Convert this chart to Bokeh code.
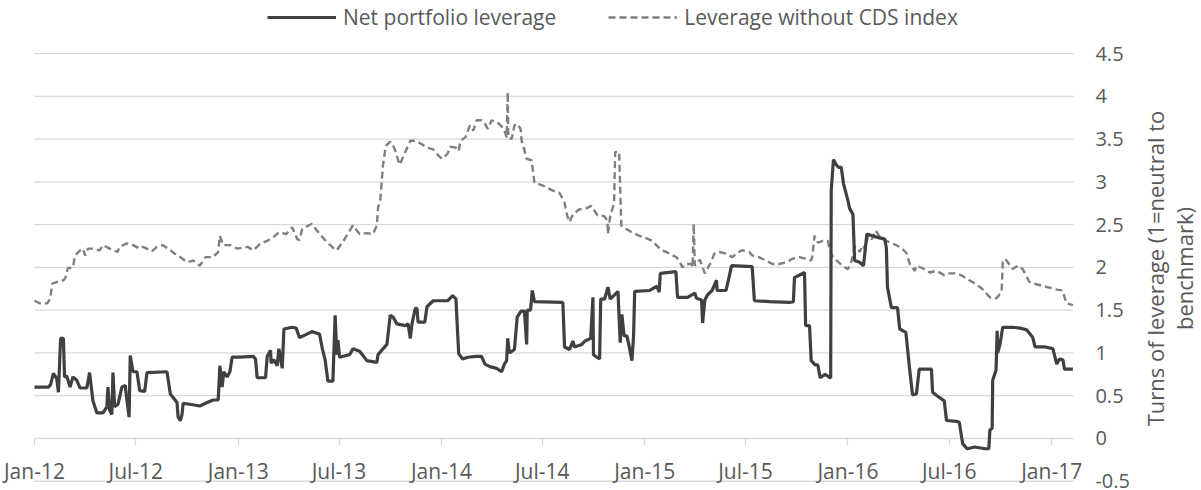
import pandas as pd
from bokeh.plotting import figure
from bokeh.models import (Range1d, FixedTicker, NumeralTickFormatter, DatetimeTickFormatter,
                          DatetimeAxis, LinearAxis, Legend, LegendItem, Label, ColumnDataSource)
from bokeh.embed import file_html
from bokeh.resources import INLINE

# ---------------- data ----------------
series_names = ["Net portfolio leverage", "Leverage without CDS index"]
axis_title_lines = ["Turns of leverage (1=neutral to", "benchmark)"]

net_dates = [
    "2012-01-01", "2012-01-26", "2012-01-30", "2012-02-04", "2012-02-10", "2012-02-13", "2012-02-17", "2012-02-22",
    "2012-02-24", "2012-02-28", "2012-03-05", "2012-03-10", "2012-03-17", "2012-03-23", "2012-04-04", "2012-04-09",
    "2012-04-15", "2012-04-22", "2012-05-03", "2012-05-10", "2012-05-12", "2012-05-15", "2012-05-19", "2012-05-21",
    "2012-05-24", "2012-05-30", "2012-06-06", "2012-06-12", "2012-06-15", "2012-06-19", "2012-06-21", "2012-06-26",
    "2012-07-03", "2012-07-08", "2012-07-17", "2012-07-21", "2012-08-26", "2012-09-01", "2012-09-06", "2012-09-13",
    "2012-09-15", "2012-09-19", "2012-09-22", "2012-09-24", "2012-10-06", "2012-10-24", "2012-11-06", "2012-11-17",
    "2012-11-26", "2012-11-29", "2012-12-03", "2012-12-06", "2012-12-12", "2012-12-17", "2012-12-21", "2013-01-04",
    "2013-01-28", "2013-02-01", "2013-02-04", "2013-02-19", "2013-02-22", "2013-02-28", "2013-03-01", "2013-03-06",
    "2013-03-12", "2013-03-15", "2013-03-21", "2013-03-24", "2013-04-08", "2013-04-15", "2013-04-21", "2013-04-28",
    "2013-05-13", "2013-05-27", "2013-06-01", "2013-06-06", "2013-06-11", "2013-06-20", "2013-06-24", "2013-06-27",
    "2013-06-29", "2013-07-02", "2013-07-20", "2013-07-26", "2013-08-07", "2013-08-20", "2013-09-07", "2013-09-09",
    "2013-09-25", "2013-10-01", "2013-10-06", "2013-10-13", "2013-10-28", "2013-11-02", "2013-11-06", "2013-11-09",
    "2013-11-15", "2013-11-18", "2013-11-20", "2013-12-02", "2013-12-06", "2013-12-17", "2014-01-12", "2014-01-21",
    "2014-01-27", "2014-01-30", "2014-02-01", "2014-02-08", "2014-02-17", "2014-03-05", "2014-03-14", "2014-03-20",
    "2014-03-29", "2014-04-10", "2014-04-19", "2014-04-24", "2014-04-28", "2014-04-30", "2014-05-03", "2014-05-12",
    "2014-05-17", "2014-05-24", "2014-05-30", "2014-06-03", "2014-06-04", "2014-06-10", "2014-06-13", "2014-06-17",
    "2014-08-07", "2014-08-10", "2014-08-19", "2014-08-25", "2014-08-28", "2014-09-10", "2014-09-16", "2014-09-26",
    "2014-09-30", "2014-10-01", "2014-10-07", "2014-10-12", "2014-10-14", "2014-10-21", "2014-10-27", "2014-10-31",
    "2014-11-14", "2014-11-18", "2014-11-21", "2014-11-25", "2014-11-30", "2014-12-05", "2014-12-09", "2014-12-12",
    "2014-12-14", "2015-01-10", "2015-01-23", "2015-01-27", "2015-01-29", "2015-02-26", "2015-03-01", "2015-03-19",
    "2015-04-01", "2015-04-04", "2015-04-13", "2015-04-15", "2015-04-19", "2015-04-24", "2015-05-02", "2015-05-10",
    "2015-05-11", "2015-05-27", "2015-06-02", "2015-06-06", "2015-07-13", "2015-07-17", "2015-08-13", "2015-09-18",
    "2015-09-25", "2015-09-27", "2015-10-15", "2015-10-17", "2015-10-24", "2015-10-27", "2015-11-03", "2015-11-08",
    "2015-11-12", "2015-11-21", "2015-11-30", "2015-12-01", "2015-12-02", "2015-12-06", "2015-12-11", "2015-12-15",
    "2015-12-20", "2015-12-24", "2016-01-01", "2016-01-04", "2016-01-10", "2016-01-13", "2016-01-22", "2016-01-29",
    "2016-02-04", "2016-02-18", "2016-03-07", "2016-03-10", "2016-03-12", "2016-03-19", "2016-03-30", "2016-04-03",
    "2016-04-14", "2016-04-21", "2016-04-26", "2016-05-03", "2016-05-08", "2016-05-30", "2016-06-01", "2016-06-13",
    "2016-06-22", "2016-06-26", "2016-07-14", "2016-07-19", "2016-07-25", "2016-08-02", "2016-08-16", "2016-09-03",
    "2016-09-10", "2016-09-12", "2016-09-16", "2016-09-17", "2016-09-23", "2016-09-25", "2016-09-26", "2016-09-30",
    "2016-10-05", "2016-10-23", "2016-11-05", "2016-11-17", "2016-11-28", "2016-12-02", "2016-12-20", "2017-01-03",
    "2017-01-10", "2017-01-15", "2017-01-21", "2017-01-24", "2017-02-08",
]
net_values = [
    0.60, 0.60, 0.63, 0.76, 0.70, 0.54, 1.17, 1.17,
    0.72, 0.73, 0.60, 0.72, 0.68, 0.59, 0.59, 0.77,
    0.44, 0.30, 0.30, 0.37, 0.60, 0.33, 0.28, 0.77,
    0.37, 0.40, 0.60, 0.62, 0.45, 0.25, 0.97, 0.78,
    0.78, 0.56, 0.55, 0.77, 0.78, 0.52, 0.48, 0.42,
    0.25, 0.21, 0.28, 0.41, 0.40, 0.38, 0.42, 0.45,
    0.45, 0.85, 0.60, 0.78, 0.72, 0.78, 0.95, 0.95,
    0.96, 0.93, 0.71, 0.71, 0.96, 1.03, 0.88, 0.92,
    0.85, 1.05, 0.82, 1.28, 1.30, 1.29, 1.18, 1.20,
    1.25, 1.22, 1.05, 0.92, 0.67, 0.67, 1.44, 0.98,
    1.15, 0.95, 0.98, 1.05, 1.02, 0.91, 0.89, 0.98,
    1.10, 1.44, 1.42, 1.34, 1.32, 1.34, 1.17, 1.34,
    1.52, 1.52, 1.36, 1.36, 1.54, 1.61, 1.61, 1.67,
    1.63, 1.23, 0.99, 0.93, 0.95, 0.96, 0.96, 0.87,
    0.84, 0.82, 0.78, 0.87, 0.91, 1.17, 1.00, 1.04,
    1.42, 1.49, 1.49, 1.10, 1.50, 1.50, 1.73, 1.60,
    1.59, 1.07, 1.04, 1.14, 1.07, 1.10, 1.14, 1.17,
    1.65, 0.98, 0.95, 0.93, 1.63, 1.63, 1.77, 1.63,
    1.72, 1.12, 1.45, 1.20, 1.20, 1.05, 0.91, 1.20,
    1.72, 1.73, 1.78, 1.71, 1.93, 1.95, 1.65, 1.65,
    1.70, 1.64, 1.62, 1.35, 1.62, 1.68, 1.73, 1.85,
    1.73, 1.73, 1.90, 2.02, 2.01, 1.61, 1.60, 1.59,
    1.60, 1.88, 1.94, 1.32, 1.32, 0.91, 0.86, 0.86,
    0.71, 0.75, 0.71, 0.71, 2.90, 3.26, 3.20, 3.17,
    3.17, 2.98, 2.78, 2.69, 2.62, 2.08, 2.06, 2.02,
    2.39, 2.36, 2.33, 2.23, 1.77, 1.53, 1.53, 1.28,
    1.24, 0.80, 0.51, 0.52, 0.81, 0.81, 0.54, 0.48,
    0.44, 0.21, 0.20, 0.19, -0.06, -0.12, -0.10, -0.12,
    -0.12, 0.10, 0.12, 0.68, 0.80, 1.26, 1.00, 1.10,
    1.30, 1.30, 1.29, 1.27, 1.18, 1.07, 1.07, 1.05,
    0.87, 0.93, 0.92, 0.81, 0.81,
]

cds_dates = [
    "2012-01-01", "2012-01-11", "2012-01-24", "2012-01-29", "2012-02-02", "2012-02-11", "2012-02-22", "2012-02-25",
    "2012-03-01", "2012-03-10", "2012-03-14", "2012-03-23", "2012-03-28", "2012-04-01", "2012-04-06", "2012-04-15",
    "2012-04-27", "2012-05-03", "2012-05-15", "2012-05-29", "2012-06-02", "2012-06-15", "2012-06-26", "2012-07-08",
    "2012-07-14", "2012-07-30", "2012-08-08", "2012-08-19", "2012-09-01", "2012-09-09", "2012-09-19", "2012-10-01",
    "2012-10-12", "2012-10-24", "2012-11-03", "2012-11-17", "2012-11-26", "2012-11-29", "2012-12-05", "2012-12-17",
    "2012-12-30", "2013-01-18", "2013-01-28", "2013-02-10", "2013-02-22", "2013-03-04", "2013-03-15", "2013-03-28",
    "2013-04-08", "2013-04-17", "2013-04-21", "2013-04-26", "2013-05-13", "2013-05-27", "2013-06-06", "2013-06-20",
    "2013-06-27", "2013-07-08", "2013-07-26", "2013-08-07", "2013-08-20", "2013-08-31", "2013-09-07", "2013-09-09",
    "2013-09-13", "2013-09-18", "2013-09-23", "2013-10-01", "2013-10-08", "2013-10-13", "2013-10-18", "2013-10-28",
    "2013-11-06", "2013-11-15", "2013-11-24", "2013-12-06", "2013-12-17", "2013-12-26", "2014-01-02", "2014-01-12",
    "2014-01-17", "2014-01-27", "2014-02-01", "2014-02-04", "2014-02-13", "2014-02-21", "2014-02-27", "2014-03-05",
    "2014-03-14", "2014-03-20", "2014-03-25", "2014-04-01", "2014-04-10", "2014-04-19", "2014-04-24", "2014-04-28",
    "2014-04-30", "2014-05-01", "2014-05-07", "2014-05-12", "2014-05-17", "2014-05-23", "2014-05-25", "2014-05-30",
    "2014-06-03", "2014-06-12", "2014-06-17", "2014-07-01", "2014-07-19", "2014-08-01", "2014-08-10", "2014-08-15",
    "2014-08-19", "2014-08-25", "2014-09-06", "2014-09-18", "2014-09-27", "2014-10-08", "2014-10-20", "2014-10-26",
    "2014-10-27", "2014-10-31", "2014-11-07", "2014-11-09", "2014-11-16", "2014-11-20", "2014-11-29", "2014-12-09",
    "2014-12-22", "2014-12-31", "2015-01-15", "2015-01-22", "2015-01-31", "2015-02-09", "2015-02-20", "2015-02-27",
    "2015-03-05", "2015-03-10", "2015-03-17", "2015-03-26", "2015-03-28", "2015-03-30", "2015-04-01", "2015-04-10",
    "2015-04-13", "2015-04-19", "2015-04-24", "2015-04-30", "2015-05-06", "2015-05-15", "2015-05-27", "2015-06-07",
    "2015-06-19", "2015-06-25", "2015-07-08", "2015-07-13", "2015-07-25", "2015-08-07", "2015-08-18", "2015-08-30",
    "2015-09-13", "2015-09-23", "2015-10-06", "2015-10-18", "2015-10-27", "2015-10-29", "2015-11-02", "2015-11-08",
    "2015-11-17", "2015-11-26", "2015-11-29", "2015-12-03", "2015-12-12", "2015-12-22", "2016-01-01", "2016-01-08",
    "2016-01-13", "2016-01-19", "2016-01-22", "2016-01-28", "2016-02-01", "2016-02-06", "2016-02-13", "2016-02-20",
    "2016-02-28", "2016-03-10", "2016-03-21", "2016-04-03", "2016-04-09", "2016-04-16", "2016-04-21", "2016-04-30",
    "2016-05-03", "2016-05-14", "2016-05-27", "2016-06-08", "2016-06-22", "2016-07-01", "2016-07-14", "2016-07-25",
    "2016-08-06", "2016-08-19", "2016-08-29", "2016-09-12", "2016-09-24", "2016-09-30", "2016-10-03", "2016-10-05",
    "2016-10-09", "2016-10-14", "2016-10-23", "2016-11-01", "2016-11-10", "2016-11-22", "2016-12-06", "2016-12-24",
    "2017-01-10", "2017-01-21", "2017-01-24", "2017-01-28", "2017-02-08",
]
cds_values = [
    1.61, 1.58, 1.58, 1.63, 1.81, 1.83, 1.85, 1.87,
    1.99, 2.00, 2.14, 2.20, 2.22, 2.14, 2.22, 2.22,
    2.20, 2.26, 2.22, 2.18, 2.24, 2.28, 2.26, 2.22,
    2.24, 2.19, 2.24, 2.26, 2.20, 2.16, 2.12, 2.06,
    2.08, 2.02, 2.12, 2.12, 2.18, 2.37, 2.26, 2.26,
    2.22, 2.24, 2.20, 2.28, 2.31, 2.35, 2.41, 2.39,
    2.47, 2.33, 2.32, 2.45, 2.51, 2.39, 2.32, 2.23,
    2.20, 2.30, 2.49, 2.39, 2.40, 2.39, 2.49, 2.70,
    2.78, 3.20, 3.42, 3.47, 3.40, 3.30, 3.20, 3.35,
    3.48, 3.48, 3.45, 3.40, 3.38, 3.31, 3.27, 3.33,
    3.41, 3.40, 3.36, 3.48, 3.52, 3.66, 3.60, 3.72,
    3.72, 3.68, 3.62, 3.72, 3.70, 3.65, 3.60, 3.52,
    4.05, 3.52, 3.50, 3.66, 3.68, 3.62, 3.48, 3.37,
    3.27, 3.25, 2.99, 2.96, 2.90, 2.87, 2.76, 2.60,
    2.53, 2.62, 2.68, 2.69, 2.72, 2.61, 2.60, 2.55,
    2.39, 2.60, 2.75, 3.35, 3.35, 2.49, 2.45, 2.41,
    2.37, 2.35, 2.31, 2.26, 2.20, 2.18, 2.14, 2.12,
    2.06, 2.00, 2.04, 2.04, 2.00, 2.51, 2.02, 2.09,
    2.04, 1.93, 1.99, 2.06, 2.16, 2.18, 2.16, 2.12,
    2.18, 2.20, 2.18, 2.14, 2.12, 2.08, 2.04, 2.04,
    2.06, 2.10, 2.12, 2.10, 2.08, 2.13, 2.37, 2.29,
    2.31, 2.31, 2.22, 2.14, 2.08, 2.02, 1.98, 2.08,
    2.24, 2.23, 2.18, 2.26, 2.21, 2.37, 2.33, 2.43,
    2.35, 2.31, 2.28, 2.24, 2.21, 2.16, 2.04, 1.96,
    2.02, 1.99, 1.94, 1.96, 1.91, 1.93, 1.93, 1.90,
    1.85, 1.80, 1.75, 1.65, 1.64, 1.69, 1.71, 2.06,
    2.10, 2.06, 1.98, 2.02, 1.98, 1.83, 1.80, 1.77,
    1.74, 1.73, 1.65, 1.58, 1.56,
]

x_tick_dates = ["2012-01-01", "2012-07-01", "2013-01-01", "2013-07-01", "2014-01-01", "2014-07-01",
                "2015-01-01", "2015-07-01", "2016-01-01", "2016-07-01", "2017-01-01"]
y_ticks = [-0.5, 0, 0.5, 1, 1.5, 2, 2.5, 3, 3.5, 4, 4.5]
x_start, x_end = "2012-01-01", "2017-02-09"

# ---------------- layout / styles ----------------
FONT = "Open Sans"
TXT = "#595959"
GRID = "#d9d9d9"
W, H = 1201, 490
PAD_LEFT_DAYS, PAD_RIGHT_DAYS = 61, 230      # room for the outer texts
PAD_BOTTOM, PAD_TOP = 0.108, 0.62            # in axis units


def ms(d):
    return pd.Timestamp(d).timestamp() * 1000.0


t0, t1 = pd.Timestamp(x_start), pd.Timestamp(x_end)
src_net = ColumnDataSource(dict(x=pd.to_datetime(net_dates), y=net_values))
src_cds = ColumnDataSource(dict(x=pd.to_datetime(cds_dates), y=cds_values))

p = figure(width=W, height=H, x_axis_type="datetime",
           x_axis_location=None, y_axis_location=None,
           x_range=Range1d(t0 - pd.Timedelta(days=PAD_LEFT_DAYS), t1 + pd.Timedelta(days=PAD_RIGHT_DAYS)),
           y_range=Range1d(y_ticks[0] - PAD_BOTTOM, y_ticks[-1] + PAD_TOP),
           output_backend="svg", toolbar_location=None,
           min_border=0)
p.outline_line_color = None
p.background_fill_color = "white"
p.border_fill_color = "white"
p.grid.visible = False

# horizontal gridlines over the data span
p.segment(x0=[t0] * len(y_ticks), y0=y_ticks, x1=[t1] * len(y_ticks), y1=y_ticks,
          line_color=GRID, line_width=1.3)

# x axis drawn at y = 0
xax = DatetimeAxis(fixed_location=0,
                   ticker=FixedTicker(ticks=[ms(d) for d in x_tick_dates]),
                   formatter=DatetimeTickFormatter(days="%b-%y", months="%b-%y", years="%b-%y"))
xax.axis_line_color = None
xax.major_tick_line_color = GRID
xax.major_tick_line_width = 1.3
xax.major_tick_in = 0
xax.major_tick_out = 7
xax.minor_tick_line_color = None
xax.major_label_standoff = 12
xax.major_label_text_font = FONT
xax.major_label_text_font_size = "21px"
xax.major_label_text_color = TXT
p.add_layout(xax, "below")

# y axis drawn at the right end of the data span
yax = LinearAxis(fixed_location=ms(x_end), ticker=FixedTicker(ticks=y_ticks),
                 formatter=NumeralTickFormatter(format="0.[0]"))
yax.axis_line_color = None
yax.major_tick_line_color = None
yax.minor_tick_line_color = None
yax.major_tick_in = 0
yax.major_tick_out = 0
yax.major_label_standoff = 22
yax.major_label_text_font = FONT
yax.major_label_text_font_size = "20px"
yax.major_label_text_color = TXT
p.add_layout(yax, "right")

r_cds = p.line("x", "y", source=src_cds, line_color="#7f7f7f", line_width=2.4, line_dash="7 4")
r_net = p.line("x", "y", source=src_net, line_color="#404040", line_width=3.2)

for i, line in enumerate(axis_title_lines):
    p.add_layout(Label(x=1154 + 29 * i, y=222, x_units="screen", y_units="screen",
                       angle=90, angle_units="deg", text=line,
                       text_align="center", text_baseline="middle",
                       text_font=FONT, text_font_size="22px", text_color=TXT))

legend = Legend(items=[LegendItem(label=series_names[0], renderers=[r_net]),
                       LegendItem(label=series_names[1], renderers=[r_cds])],
                orientation="horizontal", location=(267, 459),
                glyph_width=69, glyph_height=20, label_standoff=7, spacing=52,
                padding=0, margin=0,
                label_text_font=FONT, label_text_font_size="21px", label_text_color=TXT,
                background_fill_alpha=0, border_line_alpha=0)
p.add_layout(legend)

open("out.html", "w").write(file_html(p, INLINE))
